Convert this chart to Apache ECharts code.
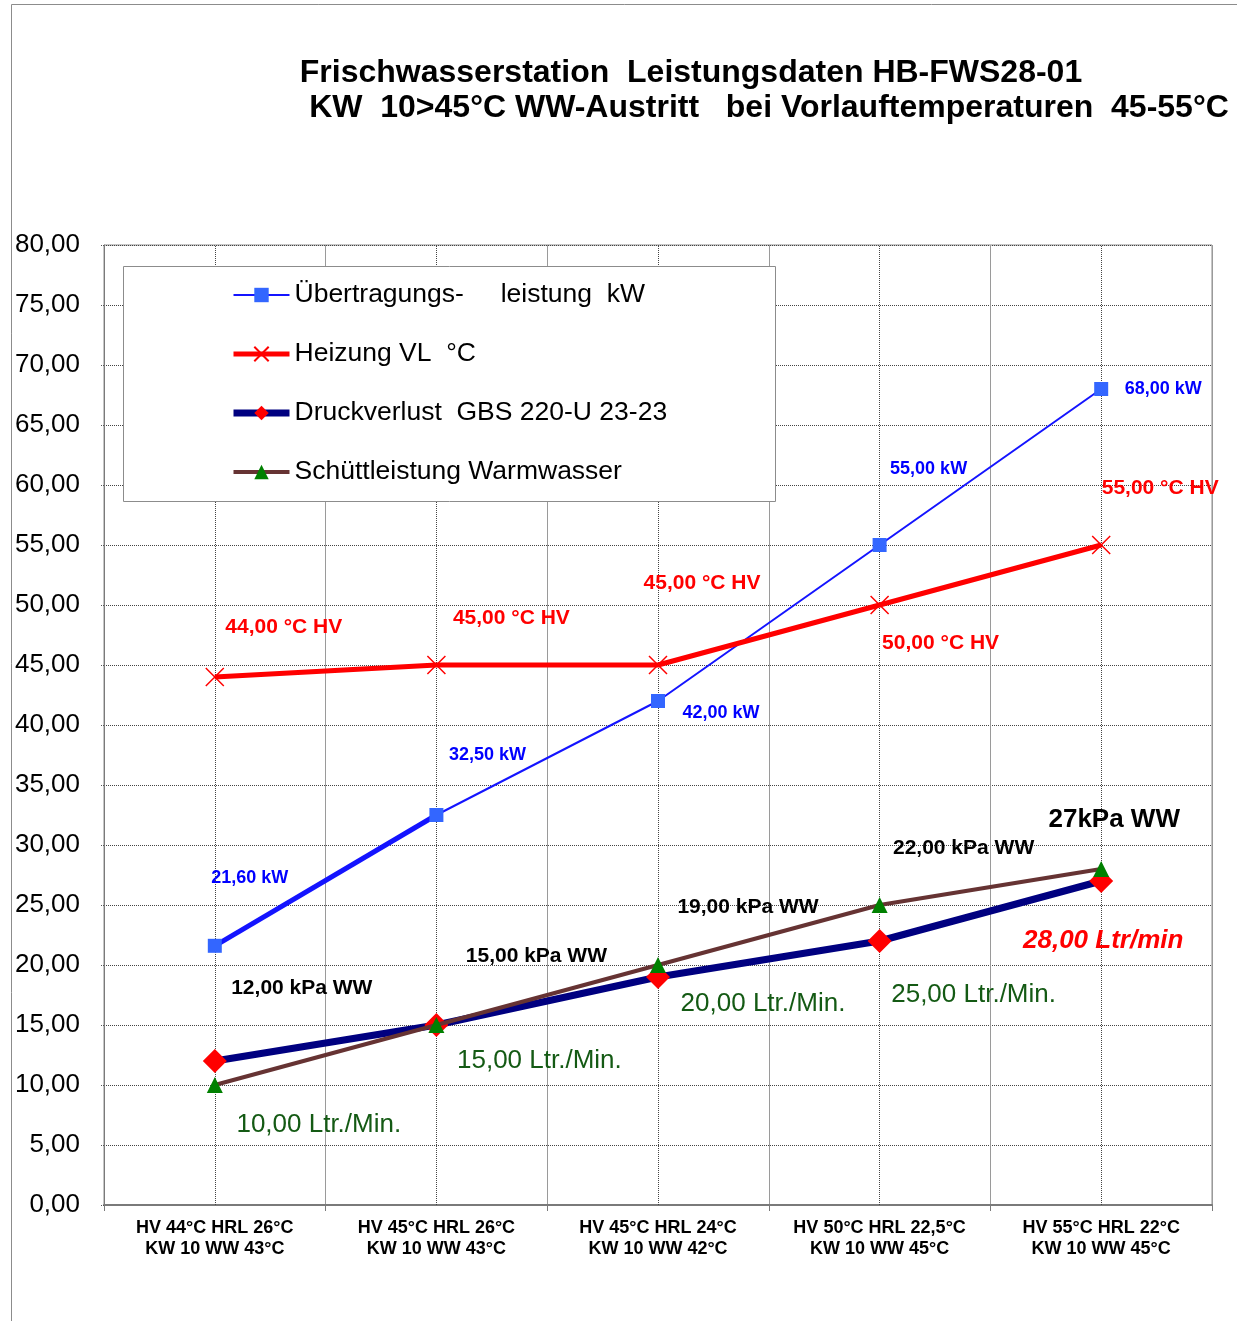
<!DOCTYPE html>
<html>
<head>
<meta charset="utf-8">
<title>Frischwasserstation Leistungsdaten</title>
<script src="https://cdn.jsdelivr.net/npm/echarts@6/dist/echarts.min.js"></script>
<style>
    html, body { margin: 0; padding: 0; background: #fff; }
    #main { width: 1237px; height: 1321px; }
</style>
</head>
<body>
<div id="main"></div>
<script>
// Kategorien (x-Achse)
var categories = [
    'HV 44°C HRL 26°C\nKW 10 WW 43°C',
    'HV 45°C HRL 26°C\nKW 10 WW 43°C',
    'HV 45°C HRL 24°C\nKW 10 WW 42°C',
    'HV 50°C HRL 22,5°C\nKW 10 WW 45°C',
    'HV 55°C HRL 22°C\nKW 10 WW 45°C'
];
// Übertragungsleistung kW
var leistungKW = [21.6, 32.5, 42, 55, 68];
// Heizung VL °C
var heizungVL = [44, 45, 45, 50, 55];
// Druckverlust kPa
var druckverlust = [12, 15, 19, 22, 27];
// Schüttleistung Ltr./Min.
var schuettleistung = [10, 15, 20, 25, 28];
// y-Achse
var yMin = 0, yMax = 80, yStep = 5;

var seriesNames = ['Übertragungs-     leistung  kW', 'Heizung VL  °C', 'Druckverlust  GBS 220-U 23-23', 'Schüttleistung Warmwasser'];

// Label-Verschiebungen (Pixel) relativ zum Punkt
var offKW = [[35, -68], [51, -60], [63, 12], [49, -76], [62, 0]];
var offVL = [[69, -50], [75, -47], [44, -82], [61, 38], [59, -57]];
var offKPa = [[87, -73], [100, -69], [90, -70], [84, -93], [13, -61]];
var offLtr = [[104, 40], [103, 36], [105, 39], [94, 90], [2, 72]];

var FONT = '"Liberation Sans", Arial, sans-serif';

function fmt(v) {
    return v.toFixed(2).replace('.', ',');
}

function buildData(values, offsets, textFn, extra) {
    var out = [];
    for (var i = 0; i < values.length; i++) {
        var lab = {
            show: true,
            position: 'inside',
            align: 'center',
            verticalAlign: 'middle',
            offset: offsets[i],
            formatter: textFn(values[i], i)
        };
        if (extra && extra[i]) {
            for (var k in extra[i]) lab[k] = extra[i][k];
        }
        out.push({ value: values[i], label: lab });
    }
    return out;
}

var chart = echarts.init(document.getElementById('main'));

var lastIdx = categories.length - 1;
var kpaExtra = {};
kpaExtra[lastIdx] = { fontSize: 26 };
var ltrExtra = {};
ltrExtra[lastIdx] = { color: '#ff0000', fontWeight: 'bold', fontStyle: 'italic', fontSize: 26 };

var option = {
    animation: false,
    backgroundColor: '#ffffff',
    textStyle: { fontFamily: FONT },
    graphic: [
        {
            type: 'rect', z: -1, silent: true,
            shape: { x: 11.5, y: 4.5, width: 1400, height: 1400 },
            style: { fill: 'none', stroke: '#8c8c8c', lineWidth: 1 }
        },
        {
            type: 'text', x: 691, y: 73,
            style: { text: 'Frischwasserstation  Leistungsdaten HB-FWS28-01', font: 'bold 32px ' + FONT, fill: '#000', align: 'center', verticalAlign: 'middle' }
        },
        {
            type: 'text', x: 769, y: 108,
            style: { text: 'KW  10>45°C WW-Austritt   bei Vorlauftemperaturen  45-55°C', font: 'bold 32px ' + FONT, fill: '#000', align: 'center', verticalAlign: 'middle' }
        },
        {
            // Legendenrahmen
            type: 'rect', z: 3, silent: true,
            shape: { x: 123.5, y: 266.5, width: 652, height: 235 },
            style: { fill: '#ffffff', stroke: '#8c8c8c', lineWidth: 1 }
        }
    ],
    legend: {
        data: [
            { name: seriesNames[0], lineStyle: { width: 2 } },
            { name: seriesNames[1], lineStyle: { width: 5 } },
            { name: seriesNames[2], lineStyle: { width: 7 } },
            { name: seriesNames[3], lineStyle: { width: 4 } }
        ],
        orient: 'vertical',
        left: 230,
        top: 280,
        padding: 0,
        itemWidth: 56,
        itemHeight: 18,
        itemGap: 29,
        z: 5,
        textStyle: { fontSize: 26.5, color: '#000', lineHeight: 30, fontFamily: FONT }
    },
    grid: {
        left: 104, top: 245, width: 1108, height: 960,
        show: true, borderColor: '#8c8c8c', borderWidth: 1
    },
    xAxis: {
        type: 'category',
        data: categories,
        boundaryGap: true,
        axisLine: { lineStyle: { color: '#7a7a7a', width: 2 } },
        axisTick: { show: true, length: 6, interval: 0, lineStyle: { color: '#7a7a7a' } },
        axisLabel: { interval: 0, fontSize: 18, fontWeight: 'bold', color: '#000', lineHeight: 21, margin: 13, fontFamily: FONT },
        splitLine: { show: true, interval: 0, lineStyle: { color: '#9a9a9a', width: 1 } }
    },
    yAxis: {
        type: 'value',
        min: yMin, max: yMax, interval: yStep,
        axisLine: { show: true, lineStyle: { color: '#7a7a7a', width: 1 } },
        axisTick: { show: true, length: 4, lineStyle: { color: '#555', type: 'dotted' } },
        axisLabel: { fontSize: 26, color: '#000', margin: 24, fontFamily: FONT, formatter: function (v) { return fmt(v); } },
        splitLine: { show: true, lineStyle: { color: '#444', type: 'dotted', width: 1 } }
    },
    series: [
        {
            name: seriesNames[0],
            type: 'line',
            data: buildData(leistungKW, offKW, function (v) { return fmt(v) + ' kW'; }),
            symbol: 'rect', symbolSize: 14,
            lineStyle: { color: '#1414ff', width: 2 },
            itemStyle: { color: '#3366ff' },
            label: { fontSize: 18, fontWeight: 'bold', color: '#0000ff', fontFamily: FONT },
            z: 4,
            // senkrechte gepunktete Linien in Kategoriemitte
            markLine: {
                silent: true,
                symbol: ['none', 'none'],
                label: { show: false },
                lineStyle: { color: '#444', type: 'dotted', width: 1 },
                z: 1,
                data: categories.map(function (c, i) { return { xAxis: i }; })
            }
        },
        {
            // erster Abschnitt dicker
            name: 'kw_dick',
            type: 'line',
            data: leistungKW.map(function (v, i) { return i < 2 ? v : null; }),
            showSymbol: false,
            symbol: 'none',
            lineStyle: { color: '#1414ff', width: 5 },
            z: 3
        },
        {
            name: seriesNames[1],
            type: 'line',
            data: buildData(heizungVL, offVL, function (v) { return fmt(v) + ' °C HV'; }),
            symbol: 'path://M0,0L10,10M10,0L0,10', symbolSize: 18,
            lineStyle: { color: '#ff0000', width: 5 },
            itemStyle: { color: 'none', borderColor: '#ff0000', borderWidth: 1.5 },
            label: { fontSize: 21, fontWeight: 'bold', color: '#ff0000', fontFamily: FONT },
            z: 4
        },
        {
            name: seriesNames[2],
            type: 'line',
            data: buildData(druckverlust, offKPa, function (v, i) { return i === lastIdx ? v + 'kPa WW' : fmt(v) + ' kPa WW'; }, kpaExtra),
            symbol: 'diamond', symbolSize: 24,
            lineStyle: { color: '#000080', width: 7 },
            itemStyle: { color: '#ff0000' },
            label: { fontSize: 21, fontWeight: 'bold', color: '#000', fontFamily: FONT },
            z: 5
        },
        {
            name: seriesNames[3],
            type: 'line',
            data: buildData(schuettleistung, offLtr, function (v, i) { return i === lastIdx ? fmt(v) + ' Ltr/min' : fmt(v) + ' Ltr./Min.'; }, ltrExtra),
            symbol: 'triangle', symbolSize: 16,
            lineStyle: { color: '#663333', width: 4 },
            itemStyle: { color: '#008000' },
            label: { fontSize: 26, color: '#145a14', fontFamily: FONT },
            z: 6
        }
    ]
};

chart.setOption(option);
</script>
</body>
</html>
